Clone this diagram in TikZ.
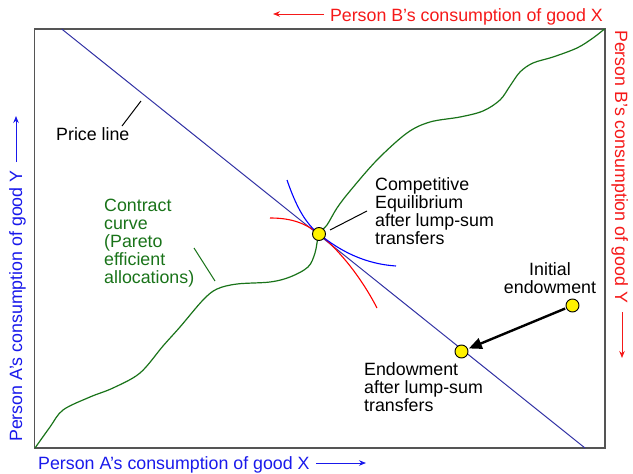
\documentclass[tikz,border=0pt]{standalone}
\usepackage{fontspec}
\setmainfont{Liberation Sans}
\usetikzlibrary{arrows.meta}

\definecolor{priceblue}{RGB}{50,50,165}
\definecolor{ccgreen}{RGB}{25,115,25}
\definecolor{axblue}{RGB}{25,25,235}
\definecolor{axred}{RGB}{245,25,25}
\definecolor{framegray}{RGB}{85,85,85}

\tikzset{
  lbl/.style={inner sep=0pt, font=\fontsize{17.8}{18}\selectfont, align=left},
  dot/.style={circle, draw=black, fill=yellow, line width=0.9pt, minimum size=13pt, inner sep=0pt},
  axarrow/.style={line width=0.9pt, -{Stealth[length=7pt,width=5.5pt]}},
  leader/.style={line width=1pt},
}

\begin{document}
\begin{tikzpicture}[x=1pt,y=-1pt]
\useasboundingbox (0,0) rectangle (633,474);
\draw [framegray, line width=1.4pt] (34.5,29) rectangle (605,448);

% price line
\coordinate (pltop) at (61.7,29);
\coordinate (plbot) at (585,448);
\draw [priceblue, line width=1pt] (pltop) -- (plbot);

% contract curve
\draw [ccgreen, line width=1.2pt] plot [smooth, tension=0.55] coordinates {
  (35,448) (50,427) (63,410) (90,397) (113,388) (140,373) (163,346) (180,327)
  (203,300) (217,289) (237,284) (270,282) (290,277) (308,267) (315,253) (319,234)
  (327,225) (337,208) (350,191) (377,160) (407,133) (430,122) (460,117) (483,111)
  (500,100) (510,86) (520,72) (533,63) (553,57) (577,48) (593,38) (604.5,29)};

% indifference curves through the equilibrium
\draw [red, line width=1.1pt] (270,218) .. controls (287,218) and (303,221) .. (319,234)
  .. controls (337,248) and (360,275) .. (377,308);
\draw [blue, line width=1.1pt] (287,180) .. controls (296,206) and (305,223) .. (319,234)
  .. controls (340,251) and (365,264) .. (396,266);

\node (ce) [dot] at (319,234) {};
\node (endw) [dot] at (461.5,351.5) {};
\node (init) [dot] at (572.5,305.5) {};
\draw [line width=2.4pt, -{Triangle[length=13pt,width=11pt]}, shorten >=1pt, shorten <=1pt] (init) -- (endw);

% labels (multi-line ones sit on their last baseline)
\node (price) [lbl, anchor=base west] at (56,140) {Price line};
\coordinate (pricea) at (122,126);
\coordinate (priceb) at (141,101);
\draw [leader] (pricea) -- (priceb);

\node (cc) [lbl, anchor=base west, text=ccgreen] at (104,283) {Contract\\curve\\(Pareto\\efficient\\allocations)};
\coordinate (cca) at (194,248);
\coordinate (ccb) at (215,281);
\draw [leader, ccgreen] (cca) -- (ccb);

\node (celbl) [lbl, anchor=base west] at (375,244) {Competitive\\Equilibrium\\after lump-sum\\transfers};
\coordinate (cea) at (330,230);
\coordinate (ceb) at (367,211);
\draw [leader] (cea) -- (ceb);

\node (initlbl) [lbl, align=center, anchor=base] at (550,293) {Initial\\endowment};
\node (endwlbl) [lbl, anchor=base west] at (364,411) {Endowment\\after lump-sum\\transfers};

% axes
\node (ax) [lbl, anchor=base west, text=axblue] at (38,469) {Person A's consumption of good X};
\coordinate (axa) at (316,463);
\coordinate (axb) at (366,463);
\draw [axarrow, axblue] (axa) -- (axb);

\node (ay) [lbl, anchor=base west, rotate=90, text=axblue] at (22,442) {Person A's consumption of good Y};
\coordinate (aya) at (16,162);
\coordinate (ayb) at (16,116);
\draw [axarrow, axblue] (aya) -- (ayb);

\node (bx) [lbl, anchor=base east, text=axred] at (603,21) {Person B's consumption of good X};
\coordinate (bxa) at (324,14);
\coordinate (bxb) at (273,14);
\draw [axarrow, axred] (bxa) -- (bxb);

\node (by) [lbl, anchor=base west, rotate=-90, text=axred] at (615,30) {Person B's consumption of good Y};
\coordinate (bya) at (622,312);
\coordinate (byb) at (622,358);
\draw [axarrow, axred] (bya) -- (byb);
\end{tikzpicture}
\end{document}
